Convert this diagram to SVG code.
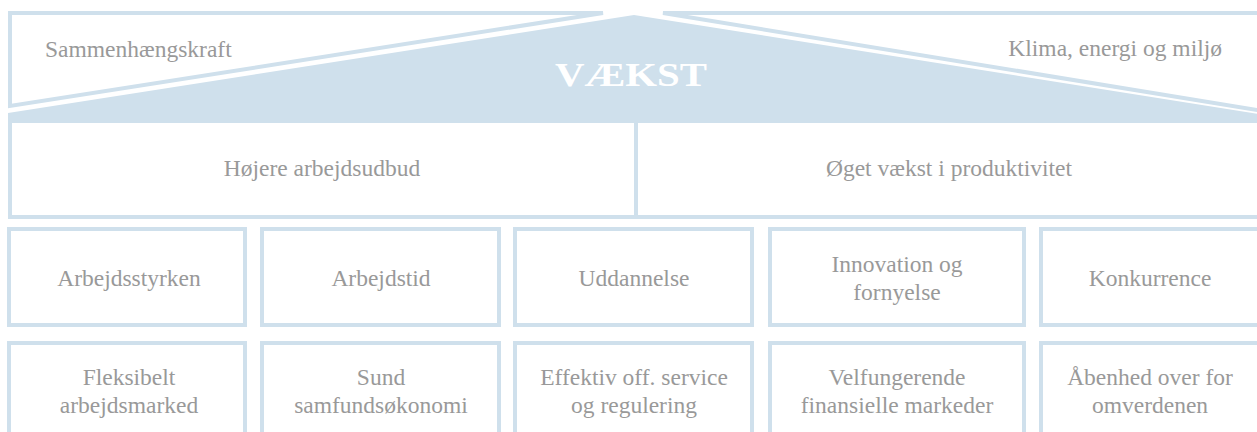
<svg xmlns="http://www.w3.org/2000/svg" width="1257" height="432" viewBox="0 0 1257 432">
<style>
.b{fill:#ffffff;stroke:#cfe0ec;stroke-width:4}
.t{font-family:'Liberation Serif',Tinos,'Times New Roman',Times,'DejaVu Serif',serif;font-size:23.5px;fill:#999999;text-anchor:middle}
.v{font-family:'Liberation Serif',Tinos,'Times New Roman',Times,'DejaVu Serif',serif;font-size:34px;font-weight:bold;fill:#ffffff;text-anchor:middle}
</style>
<rect width="1257" height="432" fill="#ffffff"/>
<g id="roof">
<polygon class="b" points="10,13 603,13 10,106"/>
<polygon class="b" points="663,13 1265,13 1265,111.3"/>
<polygon points="8,113 634,15 1265,115 1265,121 8,121" fill="#cfe0ec"/>
<text x="45" y="57" class="t" style="text-anchor:start">Sammenhængskraft</text>
<text x="1222" y="56" class="t" style="text-anchor:end">Klima, energi og miljø</text>
<text x="631" y="86" class="v" textLength="152" lengthAdjust="spacingAndGlyphs">VÆKST</text>
</g>
<g id="mid">
<rect class="b" x="10" y="121" width="1260" height="96"/>
<line x1="636" y1="121" x2="636" y2="217" stroke="#cfe0ec" stroke-width="4"/>
<text x="322" y="176" class="t">Højere arbejdsudbud</text>
<text x="949" y="176" class="t">Øget vækst i produktivitet</text>
</g>
<g id="r3">
<g id="n-arbejdsstyrken"><rect class="b" x="9" y="229" width="236" height="96"/><text x="129" y="286" class="t">Arbejdsstyrken</text></g>
<g id="n-arbejdstid"><rect class="b" x="262" y="229" width="237" height="96"/><text x="381" y="286" class="t">Arbejdstid</text></g>
<g id="n-uddannelse"><rect class="b" x="515" y="229" width="237" height="96"/><text x="634" y="286" class="t">Uddannelse</text></g>
<g id="n-innovation"><rect class="b" x="770" y="229" width="254" height="96"/><text x="897" y="272" class="t">Innovation og</text><text x="897" y="300" class="t">fornyelse</text></g>
<g id="n-konkurrence"><rect class="b" x="1041" y="229" width="260" height="96"/><text x="1150" y="286" class="t">Konkurrence</text></g>
</g>
<g id="r4">
<g id="n-fleksibelt"><rect class="b" x="9" y="343" width="236" height="100"/><text x="129" y="385" class="t">Fleksibelt</text><text x="129" y="413" class="t">arbejdsmarked</text></g>
<g id="n-sund"><rect class="b" x="262" y="343" width="237" height="100"/><text x="381" y="385" class="t">Sund</text><text x="381" y="413" class="t">samfundsøkonomi</text></g>
<g id="n-effektiv"><rect class="b" x="515" y="343" width="237" height="100"/><text x="634" y="385" class="t">Effektiv off. service</text><text x="634" y="413" class="t">og regulering</text></g>
<g id="n-velfungerende"><rect class="b" x="770" y="343" width="254" height="100"/><text x="897" y="385" class="t">Velfungerende</text><text x="897" y="413" class="t">finansielle markeder</text></g>
<g id="n-abenhed"><rect class="b" x="1041" y="343" width="260" height="100"/><text x="1150" y="385" class="t">Åbenhed over for</text><text x="1150" y="413" class="t">omverdenen</text></g>
</g>
<g id="connectors"></g>
</svg>
